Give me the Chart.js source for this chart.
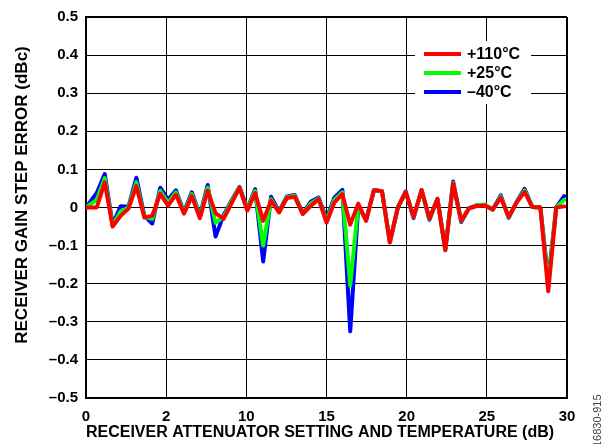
<!DOCTYPE html>
<html>
<head>
<meta charset="utf-8">
<script src="https://cdn.jsdelivr.net/npm/chart.js@4.4.1/dist/chart.umd.min.js"></script>
<style>
  html, body { margin: 0; padding: 0; background: #fff; }
  #wrap { width: 610px; height: 444px; }
</style>
</head>
<body>
<div id="wrap"><canvas id="myChart" width="610" height="444"></canvas></div>
<script>
// attenuator setting (dB) of each measured step
const settings = [0, 0.67, 1.17, 1.66, 2.16, 2.65, 3.14, 3.64, 4.13, 4.63, 5.12, 5.61, 6.11, 6.60, 7.10, 7.59,
    8.08, 8.58, 9.07, 9.57, 10.06, 10.55, 11.05, 11.54, 12.04, 12.53, 13.02, 13.52, 14.01, 14.51, 15.00,
    15.49, 15.99, 16.48, 16.98, 17.47, 17.96, 18.46, 18.95, 19.45, 19.94, 20.43, 20.93, 21.42, 21.92,
    22.41, 22.90, 23.40, 23.89, 24.39, 24.88, 25.37, 25.87, 26.36, 26.86, 27.35, 27.84, 28.34, 28.83,
    29.33, 29.82];

const err110 = [0, 0, 0.066, -0.05, -0.022, -0.003, 0.056, -0.026, -0.022, 0.036, 0.005, 0.034, -0.016, 0.03,
    -0.028, 0.044, -0.015, -0.03, 0.01, 0.052, -0.008, 0.038, -0.035, 0.018, -0.013, 0.025, 0.028, -0.017,
    0.004, 0.022, -0.04, 0.013, 0.035, -0.045, 0.01, -0.035, 0.045, 0.043, -0.092, 0, 0.041, -0.025, 0.046,
    -0.029, 0.022, -0.112, 0.063, -0.035, -0.002, 0.004, 0.005, -0.005, 0.026, -0.024, 0.013, 0.041, 0.001,
    0, -0.22, 0, 0.003];

const err25 = [0, 0.02, 0.077, -0.048, -0.01, 0, 0.066, -0.025, -0.03, 0.044, 0.012, 0.04, -0.014, 0.035,
    -0.025, 0.052, -0.04, -0.025, 0.015, 0.053, -0.005, 0.043, -0.1, 0.022, -0.012, 0.027, 0.031, -0.017,
    0.01, 0.024, -0.035, 0.02, 0.04, -0.205, 0.005, -0.034, 0.045, 0.043, -0.092, 0, 0.041, -0.026, 0.046,
    -0.03, 0.022, -0.112, 0.065, -0.036, -0.002, 0.006, 0.008, -0.006, 0.029, -0.025, 0.014, 0.045, 0.001,
    0, -0.2, 0, 0.02];

const errM40 = [0, 0.038, 0.088, -0.045, 0.003, 0.002, 0.078, -0.022, -0.042, 0.052, 0.02, 0.045, -0.012, 0.04,
    -0.022, 0.059, -0.076, -0.02, 0.018, 0.054, -0.003, 0.048, -0.142, 0.028, -0.01, 0.029, 0.033, -0.016,
    0.015, 0.026, -0.03, 0.026, 0.046, -0.325, 0.002, -0.032, 0.046, 0.043, -0.09, 0, 0.042, -0.028, 0.046,
    -0.032, 0.023, -0.11, 0.068, -0.038, -0.002, 0.006, 0.006, -0.005, 0.032, -0.027, 0.015, 0.049, 0.001,
    0, -0.19, 0, 0.03];

const seriesLabels = ['+110\u00B0C', '+25\u00B0C', '\u201340\u00B0C'];
const seriesColors = ['#ff0000', '#00ff00', '#0000ff'];

const xTickLabels = ['0', '2', '10', '15', '20', '25', '30'];
const yTickLabels = ['\u20130.5', '\u20130.4', '\u20130.3', '\u20130.2', '\u20130.1', '0',
    '0.1', '0.2', '0.3', '0.4', '0.5'];

const xTitle = 'RECEIVER ATTENUATOR SETTING AND TEMPERATURE (dB)';
const yTitle = 'RECEIVER GAIN STEP ERROR (dBc)';
const figCode = '16830-915';

const FONT = '"Liberation Sans", Arial, sans-serif';

function toPoints(values) {
    return values.map((v, i) => ({ x: settings[i], y: v }));
}

// legend box, axis titles and figure number
const extras = {
    id: 'extras',
    afterDraw(chart) {
        const ctx = chart.ctx;
        ctx.save();
        ctx.fillStyle = '#fff';
        ctx.fillRect(415, 41, 116, 63);
        ctx.textBaseline = 'middle';
        ctx.textAlign = 'left';
        chart.data.datasets.forEach((ds, i) => {
            const y = 54 + i * 19;
            ctx.strokeStyle = ds.borderColor;
            ctx.lineWidth = 4;
            ctx.beginPath();
            ctx.moveTo(424, y);
            ctx.lineTo(461, y);
            ctx.stroke();
            ctx.fillStyle = '#000';
            ctx.font = 'bold 16px ' + FONT;
            ctx.fillText(ds.label, 467, y + 1);
        });

        ctx.fillStyle = '#000';
        ctx.textAlign = 'center';
        ctx.font = 'bold 16px ' + FONT;
        ctx.fillText(xTitle, 320, 433);

        ctx.save();
        ctx.translate(22, 195);
        ctx.rotate(-Math.PI / 2);
        ctx.font = 'bold 17px ' + FONT;
        ctx.fillText(yTitle, 0, 0);
        ctx.restore();

        ctx.save();
        ctx.translate(598, 447);
        ctx.rotate(-Math.PI / 2);
        ctx.textAlign = 'left';
        ctx.fillStyle = '#444';
        ctx.font = '11px ' + FONT;
        ctx.fillText(figCode, 0, 0);
        ctx.restore();

        ctx.restore();
    }
};

const edgeWidth = (c) => (c.index === 0 || c.index === c.scale.ticks.length - 1) ? 2 : 1;

const ctx = document.getElementById('myChart').getContext('2d');
new Chart(ctx, {
    type: 'line',
    data: {
        datasets: [
            { label: seriesLabels[0], data: toPoints(err110), borderColor: seriesColors[0] },
            { label: seriesLabels[1], data: toPoints(err25), borderColor: seriesColors[1] },
            { label: seriesLabels[2], data: toPoints(errM40), borderColor: seriesColors[2] }
        ]
    },
    options: {
        responsive: false,
        animation: false,
        events: [],
        layout: { padding: { top: 16, right: 43, left: 0, bottom: 0 } },
        elements: {
            line: { borderWidth: 4, tension: 0, fill: false, borderJoinStyle: 'round', borderCapStyle: 'round' },
            point: { radius: 0 }
        },
        plugins: {
            legend: { display: false },
            tooltip: { enabled: false }
        },
        scales: {
            x: {
                type: 'linear',
                min: 0,
                max: 30,
                afterFit: (scale) => { scale.height = 46; },
                ticks: {
                    stepSize: 5,
                    padding: 10,
                    maxRotation: 0,
                    color: '#000',
                    font: { family: FONT, size: 15, weight: 'bold' },
                    callback: (value, index) => xTickLabels[index]
                },
                grid: { color: '#000', lineWidth: edgeWidth, drawTicks: false },
                border: { display: true, color: '#000', width: 2 }
            },
            y: {
                min: -0.5,
                max: 0.5,
                afterFit: (scale) => { scale.width = 86; },
                ticks: {
                    stepSize: 0.1,
                    padding: 8,
                    color: '#000',
                    font: { family: FONT, size: 15, weight: 'bold' },
                    callback: (value, index) => yTickLabels[index]
                },
                grid: { color: '#000', lineWidth: edgeWidth, drawTicks: false },
                border: { display: true, color: '#000', width: 2 }
            }
        }
    },
    plugins: [extras]
});
</script>
</body>
</html>
